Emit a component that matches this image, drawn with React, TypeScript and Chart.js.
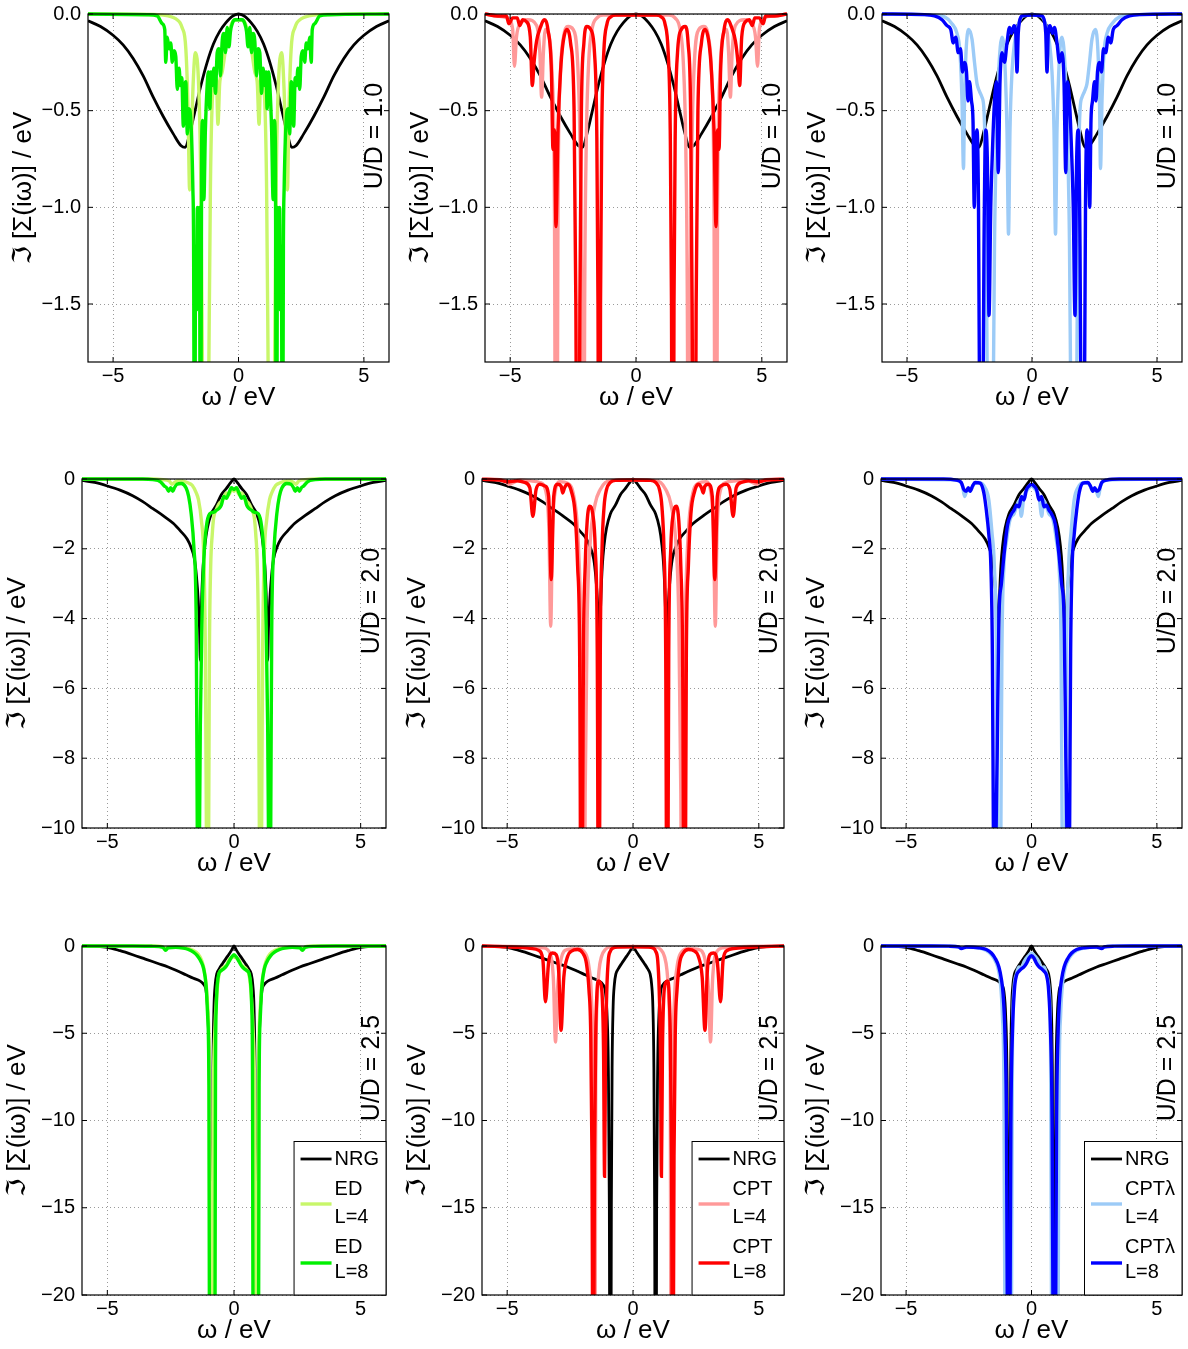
import React, { useEffect, useRef } from "react";
import { Chart, registerables } from "chart.js";

Chart.register(...registerables);

const FONT = "'Liberation Sans', Arial, Helvetica, 'DejaVu Sans', sans-serif";
Chart.defaults.font.family = FONT;

// ---------- axis ticks ----------
const xTicks = [-5, 0, 5];
const yTicksU10 = [0, -0.5, -1.0, -1.5];
const yTicksU20 = [0, -2, -4, -6, -8, -10];
const yTicksU25 = [0, -5, -10, -15, -20];
const yMinByRow = [-1.8, -10, -20];
const yDecimalsByRow = [1, 0, 0];
const uLabels = ["U/D = 1.0", "U/D = 2.0", "U/D = 2.5"];
const methodNames = ["ED", "CPT", "CPT\u03bb"];
const sizeLabels = ["L=4", "L=8"];
const xTitle = "\u03c9 / eV";
const yTitle = "\u2111 [\u03a3(i\u03c9)] / eV";

// colours: [L=4, L=8] per method
const nrgColor = "#000000";
const methodColors = [
  ["#c8f66a", "#00f000"],
  ["#ff9999", "#ff0000"],
  ["#9ccbf7", "#0000ff"],
];

// ---------- data: Im Sigma(i w) is even in w; each list gives [w, value] for w >= 0 ----------
// U/D = 1.0
const nrgU10 = [[0,0],[0.25,-0.012],[0.5,-0.045],[0.75,-0.09],[1.0,-0.155],[1.25,-0.25],[1.5,-0.37],[1.75,-0.51],[1.95,-0.62],[2.12,-0.69],[2.3,-0.68],[2.6,-0.62],[3.0,-0.53],[3.4,-0.43],[3.8,-0.32],[4.2,-0.23],[4.6,-0.16],[5.0,-0.11],[5.5,-0.065],[6.0,-0.035]];
const edL4U10 = [[0,-0.03],[0.2,-0.035],[0.35,-0.08],[0.5,-0.17],[0.65,-0.3],[0.75,-0.36],[0.82,-0.57],[0.88,-0.34],[0.98,-0.36],[1.06,-0.5],[1.12,-0.9],[1.18,-1.8],[1.31,-4],[1.44,-1.8],[1.5,-0.9],[1.58,-0.4],[1.72,-0.2],[1.82,-0.4],[1.89,-0.7],[1.95,-0.91],[2.01,-0.5],[2.1,-0.18],[2.25,-0.07],[2.5,-0.025],[2.8,-0.01],[3.2,-0.003],[6,0]];
const edL8U10 = [[0,-0.03],[0.15,-0.03],[0.25,-0.05],[0.32,-0.09],[0.38,-0.17],[0.45,-0.07],[0.52,-0.2],[0.58,-0.1],[0.65,-0.14],[0.72,-0.32],[0.78,-0.18],[0.85,-0.2],[0.92,-0.41],[0.98,-0.28],[1.05,-0.37],[1.1,-0.3],[1.14,-0.49],[1.2,-0.3],[1.25,-0.37],[1.32,-0.6],[1.38,-0.96],[1.43,-0.55],[1.47,-0.67],[1.51,-3],[1.56,-1.0],[1.6,-1.1],[1.64,-1.0],[1.67,-1.53],[1.71,-1.2],[1.75,-3],[1.79,-1.2],[1.82,-0.9],[1.9,-0.55],[1.98,-0.49],[2.04,-0.62],[2.1,-0.35],[2.14,-0.37],[2.2,-0.58],[2.26,-0.33],[2.31,-0.37],[2.37,-0.28],[2.44,-0.39],[2.5,-0.22],[2.57,-0.19],[2.64,-0.25],[2.7,-0.15],[2.77,-0.18],[2.84,-0.12],[2.9,-0.25],[2.94,-0.08],[3.04,-0.05],[3.24,-0.01],[3.6,-0.004],[6,0]];
const cptL4U10 = [[0,-0.005],[1.3,-0.006],[1.55,-0.02],[1.75,-0.08],[1.88,-0.25],[1.98,-0.7],[2.04,-1.5],[2.1,-4],[2.16,-1.5],[2.22,-0.7],[2.32,-0.25],[2.5,-0.08],[2.7,-0.065],[2.88,-0.12],[3.0,-0.3],[3.1,-1.0],[3.17,-4],[3.24,-1.0],[3.34,-0.3],[3.48,-0.1],[3.6,-0.08],[3.68,-0.2],[3.75,-0.43],[3.82,-0.2],[3.95,-0.06],[4.3,-0.03],[4.6,-0.05],[4.75,-0.12],[4.83,-0.27],[4.9,-0.08],[5.1,-0.02],[5.5,-0.01],[6,0]];
const cptL8U10 = [[0,-0.005],[0.8,-0.006],[1.0,-0.015],[1.15,-0.05],[1.28,-0.2],[1.36,-0.6],[1.41,-1.5],[1.46,-4],[1.51,-1.5],[1.56,-0.6],[1.65,-0.2],[1.8,-0.08],[1.95,-0.065],[2.07,-0.15],[2.17,-0.5],[2.23,-1.5],[2.31,-4],[2.39,-1.5],[2.46,-0.5],[2.6,-0.15],[2.75,-0.08],[2.9,-0.15],[3.0,-0.3],[3.1,-0.6],[3.18,-1.1],[3.24,-0.6],[3.3,-0.7],[3.36,-0.3],[3.5,-0.08],[3.65,-0.03],[3.8,-0.07],[3.95,-0.14],[4.05,-0.25],[4.12,-0.37],[4.2,-0.12],[4.35,-0.04],[4.5,-0.03],[4.62,-0.06],[4.72,-0.02],[4.9,-0.02],[5.05,-0.05],[5.15,-0.01],[5.5,-0.01],[6,0]];
const lamL4U10 = [[0,-0.005],[0.35,-0.01],[0.48,-0.03],[0.6,-0.08],[0.7,-0.15],[0.8,-0.3],[0.88,-0.6],[0.94,-1.14],[1.0,-0.6],[1.07,-0.3],[1.14,-0.15],[1.2,-0.12],[1.27,-0.17],[1.35,-0.35],[1.42,-0.65],[1.5,-1.2],[1.58,-2.5],[1.67,-4],[1.76,-2.5],[1.84,-1.0],[1.92,-0.5],[2.0,-0.43],[2.1,-0.4],[2.2,-0.36],[2.3,-0.25],[2.4,-0.13],[2.54,-0.08],[2.64,-0.2],[2.7,-0.45],[2.74,-0.8],[2.8,-0.45],[2.88,-0.2],[3.0,-0.1],[3.2,-0.05],[3.5,-0.015],[4.0,-0.005],[6,0]];
const lamL8U10 = [[0,-0.005],[0.4,-0.01],[0.5,-0.04],[0.55,-0.1],[0.6,-0.3],[0.65,-0.1],[0.72,-0.06],[0.82,-0.1],[0.9,-0.07],[1.0,-0.15],[1.1,-0.25],[1.2,-0.2],[1.28,-0.35],[1.35,-0.82],[1.42,-0.35],[1.5,-0.45],[1.58,-0.7],[1.65,-1.0],[1.72,-1.56],[1.78,-0.8],[1.85,-0.6],[1.92,-1.2],[1.98,-2.5],[2.03,-4],[2.08,-2.5],[2.14,-1.0],[2.2,-0.6],[2.26,-0.7],[2.31,-1.0],[2.36,-0.55],[2.42,-0.45],[2.5,-0.35],[2.56,-0.45],[2.62,-0.3],[2.7,-0.25],[2.78,-0.3],[2.86,-0.18],[2.95,-0.2],[3.05,-0.12],[3.15,-0.15],[3.25,-0.08],[3.4,-0.06],[3.6,-0.03],[3.9,-0.01],[4.3,-0.003],[6,0]];

// U/D = 2.0
const nrgU20 = [[0,0],[0.15,-0.12],[0.3,-0.27],[0.5,-0.45],[0.7,-0.75],[0.9,-1.0],[1.05,-1.4],[1.15,-1.9],[1.22,-2.5],[1.27,-3.3],[1.31,-4.3],[1.33,-5.2],[1.36,-4.3],[1.41,-3.5],[1.48,-2.8],[1.56,-2.3],[1.7,-1.95],[1.85,-1.72],[2.1,-1.5],[2.4,-1.27],[2.8,-1.05],[3.2,-0.85],[3.6,-0.65],[4.0,-0.48],[4.5,-0.32],[5.0,-0.2],[5.5,-0.1],[6,-0.04]];
const edL4U20 = [[0,-0.35],[0.1,-0.3],[0.2,-0.45],[0.3,-0.4],[0.45,-0.6],[0.6,-0.72],[0.7,-0.88],[0.8,-1.1],[0.86,-1.6],[0.92,-2.5],[0.97,-5],[1.0,-10],[1.045,-16],[1.09,-10],[1.13,-5],[1.19,-2.3],[1.29,-1.17],[1.4,-0.6],[1.49,-0.4],[1.65,-0.18],[1.82,-0.11],[2.0,-0.06],[2.2,-0.05],[2.35,-0.1],[2.45,-0.15],[2.55,-0.06],[2.8,-0.02],[3.2,0],[6,0]];
const edL8U20 = [[0,-0.3],[0.1,-0.25],[0.2,-0.4],[0.3,-0.55],[0.4,-0.5],[0.5,-0.75],[0.6,-0.85],[0.7,-0.9],[0.8,-0.95],[0.96,-1.0],[1.09,-1.36],[1.19,-2.3],[1.27,-4.2],[1.33,-7.1],[1.36,-10],[1.405,-16],[1.45,-10],[1.49,-4.2],[1.58,-2.0],[1.69,-1.0],[1.79,-0.5],[1.89,-0.26],[2.08,-0.13],[2.25,-0.15],[2.35,-0.25],[2.42,-0.35],[2.5,-0.25],[2.58,-0.35],[2.66,-0.25],[2.75,-0.2],[2.9,-0.08],[3.2,-0.02],[3.6,0],[6,0]];
const cptL4U20 = [[0,-0.03],[0.8,-0.04],[1.1,-0.1],[1.3,-0.3],[1.5,-0.7],[1.7,-1.8],[1.82,-4],[1.9,-9],[1.95,-16],[2.0,-9],[2.08,-4],[2.2,-1.5],[2.35,-0.5],[2.6,-0.12],[2.9,-0.08],[3.1,-0.4],[3.2,-1.5],[3.27,-4.22],[3.34,-1.5],[3.45,-0.4],[3.7,-0.1],[4.0,-0.06],[4.5,-0.03],[4.95,-0.15],[5.05,-0.05],[6,0]];
const cptL8U20 = [[0,-0.03],[0.7,-0.04],[0.9,-0.1],[1.05,-0.3],[1.15,-0.8],[1.23,-2],[1.3,-5],[1.36,-16],[1.42,-5],[1.5,-2],[1.6,-1.0],[1.72,-0.78],[1.82,-1.2],[1.9,-2.5],[1.97,-5],[2.05,-16],[2.12,-5],[2.2,-2.5],[2.3,-1.0],[2.45,-0.35],[2.6,-0.15],[2.72,-0.25],[2.79,-0.4],[2.86,-0.2],[3.0,-0.15],[3.15,-0.5],[3.25,-2.88],[3.35,-0.5],[3.5,-0.2],[3.7,-0.15],[3.85,-0.3],[3.98,-1.07],[4.1,-0.25],[4.3,-0.1],[4.6,-0.05],[5.0,-0.08],[5.3,-0.03],[6,-0.01]];
const lamL4U20 = [[0,-0.2],[0.15,-0.3],[0.3,-0.5],[0.41,-1.07],[0.48,-0.6],[0.6,-0.8],[0.7,-1.0],[0.85,-1.15],[1.0,-1.8],[1.1,-2.5],[1.18,-5],[1.22,-10],[1.29,-16],[1.36,-10],[1.4,-5],[1.48,-2.5],[1.58,-1.5],[1.7,-0.6],[1.85,-0.25],[2.1,-0.1],[2.3,-0.15],[2.45,-0.35],[2.55,-0.3],[2.67,-0.5],[2.75,-0.2],[2.9,-0.05],[3.2,-0.02],[6,0]];
const lamL8U20 = [[0,-0.15],[0.1,-0.2],[0.2,-0.3],[0.3,-0.6],[0.4,-0.5],[0.5,-0.8],[0.6,-0.75],[0.7,-0.9],[0.8,-1.0],[0.95,-1.3],[1.1,-2.2],[1.2,-3.0],[1.3,-4],[1.37,-8],[1.41,-10],[1.465,-16],[1.52,-10],[1.56,-5],[1.62,-2.5],[1.7,-1.6],[1.8,-0.9],[1.9,-0.4],[2.05,-0.12],[2.25,-0.1],[2.35,-0.2],[2.45,-0.35],[2.52,-0.25],[2.6,-0.35],[2.7,-0.3],[2.8,-0.1],[3.0,-0.03],[3.5,0],[6,0]];

// U/D = 2.5
const nrgU25 = [[0,0],[0.1,-0.25],[0.25,-0.58],[0.45,-1.0],[0.58,-1.3],[0.68,-1.6],[0.74,-2.2],[0.79,-3.5],[0.83,-7],[0.86,-15],[0.9,-40],[0.94,-15],[0.98,-7],[1.03,-4],[1.1,-2.6],[1.2,-2.2],[1.35,-2.0],[1.6,-1.85],[1.9,-1.65],[2.2,-1.45],[2.6,-1.2],[3.0,-1.0],[3.5,-0.75],[4.0,-0.5],[4.5,-0.27],[5.0,-0.08],[5.5,-0.02],[6,0]];
const edL4U25 = [[0,-0.6],[0.1,-0.7],[0.2,-0.8],[0.3,-1.1],[0.4,-1.2],[0.5,-1.35],[0.6,-1.7],[0.68,-2.8],[0.76,-5],[0.82,-10],[0.86,-30],[0.9,-60],[0.94,-30],[0.97,-8],[1.02,-4],[1.1,-2.2],[1.2,-1.2],[1.35,-0.6],[1.5,-0.35],[1.8,-0.15],[2.2,-0.07],[2.65,-0.08],[2.72,-0.2],[2.8,-0.05],[3.2,0],[6,0]];
const edL8U25 = [[0,-0.5],[0.1,-0.65],[0.2,-0.9],[0.3,-1.15],[0.4,-1.3],[0.5,-1.4],[0.6,-1.6],[0.66,-2.2],[0.7,-3.5],[0.73,-7],[0.76,-30],[0.86,-60],[0.96,-30],[0.99,-8],[1.04,-4],[1.1,-2.3],[1.2,-1.3],[1.3,-0.9],[1.45,-0.55],[1.6,-0.35],[1.8,-0.2],[2.0,-0.12],[2.3,-0.07],[2.6,-0.1],[2.7,-0.25],[2.8,-0.08],[3.2,-0.02],[4.0,0],[6,0]];
const cptL4U25 = [[0,-0.03],[0.9,-0.05],[1.1,-0.2],[1.25,-0.6],[1.35,-1.4],[1.42,-3],[1.48,-8],[1.52,-30],[1.58,-8],[1.65,-3],[1.75,-1.2],[1.9,-0.4],[2.2,-0.15],[2.6,-0.2],[2.85,-0.7],[3.0,-2.5],[3.08,-5.5],[3.16,-2],[3.3,-0.4],[3.6,-0.1],[4.0,-0.05],[6,0]];
const cptL8U25 = [[0,-0.05],[0.6,-0.06],[0.8,-0.12],[0.9,-0.3],[0.98,-0.8],[1.04,-2.5],[1.09,-6],[1.13,-13.2],[1.17,-6],[1.22,-3],[1.3,-2.1],[1.37,-2.0],[1.43,-2.6],[1.48,-5],[1.53,-12],[1.58,-30],[1.63,-12],[1.68,-5],[1.75,-2.5],[1.85,-1.0],[2.0,-0.4],[2.2,-0.2],[2.45,-0.3],[2.6,-0.6],[2.75,-1.8],[2.86,-4.83],[2.95,-1.5],[3.05,-0.5],[3.2,-0.4],[3.35,-0.9],[3.48,-3.2],[3.58,-0.8],[3.75,-0.25],[4.0,-0.15],[4.5,-0.08],[5.0,-0.05],[5.5,-0.02],[6,0]];
const lamL4U25 = [[0,-0.4],[0.15,-0.6],[0.3,-0.9],[0.4,-1.3],[0.5,-1.2],[0.6,-1.6],[0.7,-2.5],[0.76,-6],[0.8,-22],[0.93,-60],[1.06,-22],[1.1,-8],[1.16,-4],[1.25,-2],[1.35,-1.2],[1.5,-0.7],[1.7,-0.35],[2.0,-0.15],[2.5,-0.07],[2.8,-0.12],[3.0,-0.03],[3.5,0],[6,0]];
const lamL8U25 = [[0,-0.55],[0.1,-0.7],[0.2,-1.0],[0.3,-1.2],[0.4,-1.3],[0.5,-1.45],[0.6,-1.7],[0.68,-2.5],[0.76,-5],[0.82,-10],[0.86,-22],[0.91,-60],[0.96,-22],[1.0,-10],[1.06,-5],[1.13,-2.8],[1.2,-1.9],[1.3,-1.2],[1.45,-0.7],[1.6,-0.4],[1.8,-0.2],[2.1,-0.1],[2.6,-0.06],[2.8,-0.15],[2.9,-0.05],[3.3,-0.01],[4,0],[6,0]];

const nrgByRow = [nrgU10, nrgU20, nrgU25];
const seriesByRowMethod = [
  [[edL4U10, edL8U10], [cptL4U10, cptL8U10], [lamL4U10, lamL8U10]],
  [[edL4U20, edL8U20], [cptL4U20, cptL8U20], [lamL4U20, lamL8U20]],
  [[edL4U25, edL8U25], [cptL4U25, cptL8U25], [lamL4U25, lamL8U25]],
];
const yTicksByRow = [yTicksU10, yTicksU20, yTicksU25];

// ---------- layout (plot-area rectangles in page pixels) ----------
const rowBoxes = [
  { top: 14, h: 348 },
  { top: 479, h: 349 },
  { top: 946, h: 349 },
];
const colBoxesByRow = [
  [{ l: 88, w: 301 }, { l: 485, w: 302 }, { l: 882, w: 300 }],
  [{ l: 82, w: 304 }, { l: 482, w: 302 }, { l: 881, w: 301 }],
  [{ l: 82, w: 304 }, { l: 482, w: 302 }, { l: 881, w: 301 }],
];
const PAD_L = 88, PAD_T = 24, PAD_R = 12, PAD_B = 55;
const TICK_FONT = 20;
const TITLE_FONT = 26;

function mirror(half: number[][]) {
  const neg = half.filter((p) => p[0] > 0).map((p) => ({ x: -p[0], y: p[1] })).reverse();
  return [...neg, ...half.map((p) => ({ x: p[0], y: p[1] }))];
}

const fmt = (v: number, d: number) => {
  const s = Math.abs(v).toFixed(d);
  return v < 0 ? "\u2212" + s : s;
};

function Panel({ row, col }: { row: number; col: number }) {
  const ref = useRef<HTMLCanvasElement | null>(null);
  const rb = rowBoxes[row];
  const cb = colBoxesByRow[row][col];
  const W = PAD_L + cb.w + PAD_R;
  const H = PAD_T + rb.h + PAD_B;

  useEffect(() => {
    const [l4, l8] = seriesByRowMethod[row][col];
    const [c4, c8] = methodColors[col];
    const clip = { left: 0, top: 3, right: 0, bottom: 0 };
    const common = { pointRadius: 0, cubicInterpolationMode: "monotone" as const, clip, fill: false };
    const datasets: any[] = [
      { label: methodNames[col] + "\n" + sizeLabels[1], data: mirror(l8), borderColor: c8, borderWidth: 3.4, ...common },
      { label: methodNames[col] + "\n" + sizeLabels[0], data: mirror(l4), borderColor: c4, borderWidth: 3.4, ...common },
      { label: "NRG", data: mirror(nrgByRow[row]), borderColor: nrgColor, borderWidth: 2.8, ...common },
    ];
    const legendOrder = [2, 1, 0];
    const showLegend = row === 2;
    const yTicks = yTicksByRow[row];
    const dec = yDecimalsByRow[row];

    const framePlugin = {
      id: "frame" + row + col,
      afterDatasetsDraw(chart: any) {
        const { ctx, chartArea: a, scales } = chart;
        ctx.save();
        ctx.strokeStyle = "#000";
        ctx.lineWidth = 1.2;
        ctx.strokeRect(a.left, a.top, a.right - a.left, a.bottom - a.top);
        ctx.lineWidth = 1;
        const tl = 5;
        ctx.beginPath();
        scales.x.ticks.forEach((t: any) => {
          const px = scales.x.getPixelForValue(t.value);
          ctx.moveTo(px, a.bottom); ctx.lineTo(px, a.bottom - tl);
          ctx.moveTo(px, a.top); ctx.lineTo(px, a.top + tl);
        });
        scales.y.ticks.forEach((t: any) => {
          const py = scales.y.getPixelForValue(t.value);
          ctx.moveTo(a.left, py); ctx.lineTo(a.left + tl, py);
          ctx.moveTo(a.right, py); ctx.lineTo(a.right - tl, py);
        });
        ctx.stroke();
        // U/D annotation
        ctx.save();
        ctx.font = `25px ${FONT}`;
        ctx.fillStyle = "#000";
        ctx.textAlign = "center";
        ctx.textBaseline = "middle";
        ctx.translate(a.right - 13.5, a.top + 122);
        ctx.rotate(-Math.PI / 2);
        ctx.fillText(uLabels[row], 0, 0);
        ctx.restore();
        // legend
        if (showLegend) {
          ctx.font = `${TICK_FONT}px ${FONT}`;
          let maxW = 0;
          legendOrder.forEach((i) => {
            String(datasets[i].label).split("\n").forEach((s: string) => {
              maxW = Math.max(maxW, ctx.measureText(s).width);
            });
          });
          const bw = 41 + maxW + 7;
          const bh = 154;
          const bl = a.right - bw;
          const bt = a.bottom - bh;
          ctx.fillStyle = "#fff";
          ctx.fillRect(bl, bt, bw, bh);
          ctx.strokeStyle = "#000";
          ctx.lineWidth = 1;
          ctx.strokeRect(bl + 0.5, bt + 0.5, bw - 0.5, bh - 0.5);
          const lineYs = [18, 63, 122];
          const textYs = [[24], [54, 82], [112, 137]];
          ctx.textAlign = "left";
          ctx.textBaseline = "alphabetic";
          legendOrder.forEach((di, k) => {
            const ds = datasets[di];
            ctx.strokeStyle = ds.borderColor;
            ctx.lineWidth = ds.borderWidth;
            ctx.beginPath();
            ctx.moveTo(bl + 7, bt + lineYs[k]);
            ctx.lineTo(bl + 38, bt + lineYs[k]);
            ctx.stroke();
            ctx.fillStyle = "#000";
            String(ds.label).split("\n").forEach((s: string, j: number) => {
              ctx.fillText(s, bl + 41, bt + textYs[k][j]);
            });
          });
        }
        ctx.restore();
      },
    };

    const gridCfg = { color: "#9a9a9a", lineWidth: 1, drawTicks: false, tickLength: 0 };
    const borderCfg = { display: false, dash: [1, 3] };

    const chart = new Chart(ref.current as HTMLCanvasElement, {
      type: "line",
      data: { datasets },
      options: {
        animation: false,
        responsive: false,
        devicePixelRatio: 1,
        events: [],
        layout: { padding: { left: 0, top: PAD_T, right: PAD_R, bottom: 0 } },
        plugins: { legend: { display: false }, tooltip: { enabled: false } },
        scales: {
          x: {
            type: "linear",
            min: -6,
            max: 6,
            afterBuildTicks: (s: any) => { s.ticks = xTicks.map((v) => ({ value: v })); },
            afterFit: (s: any) => { s.height = PAD_B; },
            ticks: { padding: 2, color: "#000", font: { size: TICK_FONT }, callback: (v: any) => fmt(Number(v), 0) },
            grid: gridCfg,
            border: borderCfg,
            title: { display: true, text: xTitle, color: "#000", font: { size: TITLE_FONT }, padding: { top: 0, bottom: 4 } },
          },
          y: {
            type: "linear",
            min: yMinByRow[row],
            max: 0,
            afterBuildTicks: (s: any) => { s.ticks = yTicks.map((v) => ({ value: v })); },
            afterFit: (s: any) => { s.width = PAD_L; },
            ticks: { padding: 7, color: "#000", font: { size: TICK_FONT }, callback: (v: any) => fmt(Number(v), dec) },
            grid: gridCfg,
            border: borderCfg,
            title: { display: true, text: yTitle, color: "#000", font: { size: TITLE_FONT }, padding: { top: 8, bottom: 0 } },
          },
        },
      } as any,
      plugins: [framePlugin],
    });
    return () => chart.destroy();
  }, [row, col]);

  return (
    <canvas
      ref={ref}
      width={W}
      height={H}
      style={{ position: "absolute", left: cb.l - PAD_L, top: rb.top - PAD_T, width: W, height: H }}
    />
  );
}

export default function App() {
  const cells: JSX.Element[] = [];
  for (let r = 0; r < 3; r++) for (let c = 0; c < 3; c++) cells.push(<Panel key={`${r}-${c}`} row={r} col={c} />);
  return (
    <div style={{ position: "absolute", left: 0, top: 0, width: 1188, height: 1349, background: "#fff" }}>
      {cells}
    </div>
  );
}
